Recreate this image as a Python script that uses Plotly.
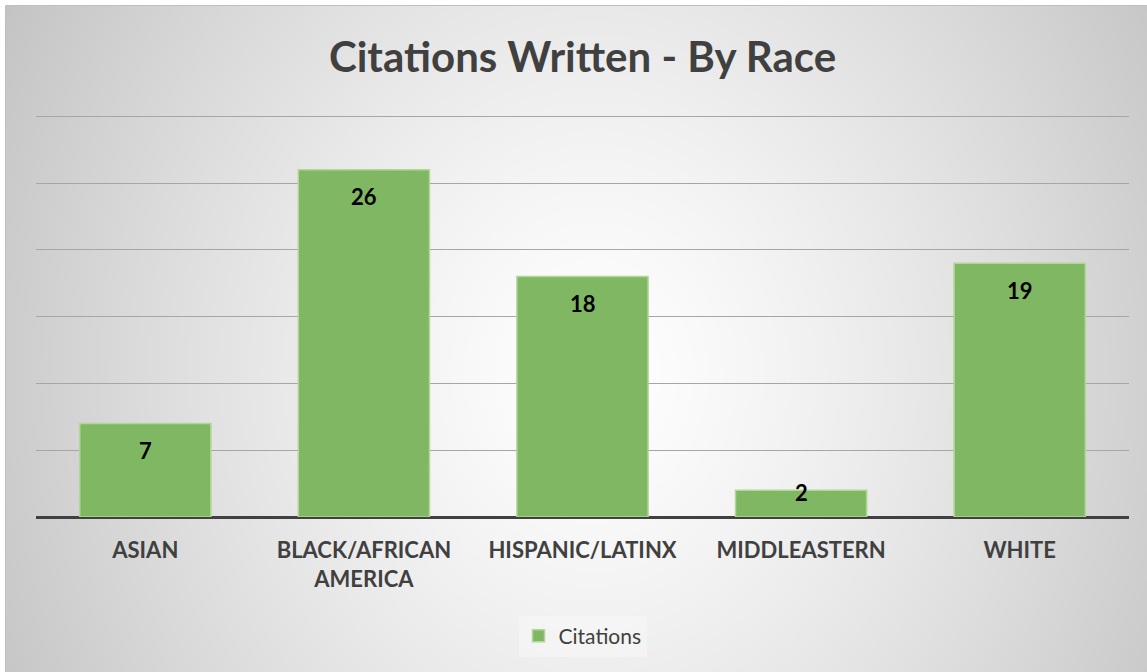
import base64, struct, zlib
import numpy as np
import plotly.graph_objects as go

categories = ["ASIAN", "BLACK/AFRICAN<br>AMERICA", "HISPANIC/LATINX", "MIDDLEASTERN", "WHITE"]
citations = [7, 26, 18, 2, 19]
series_name = "Citations"
title_text = "Citations Written - By Race"

W, H = 1147, 672

# --- radial gradient background as an inline PNG ---
def make_png(w, h, scale, cx, cy):
    ys, xs = np.mgrid[0:h, 0:w]
    dx = (xs * scale - cx) / 680.0
    dy = (ys * scale - cy) / 800.0
    d = np.sqrt(dx ** 2 + dy ** 2)
    c = 255 - 60 * np.clip(d, 0, 1.3) ** 1.3
    c = np.clip(c, 0, 255).astype(np.uint8)
    raw = b"".join(b"\x00" + bytes(np.repeat(row, 3)) for row in c)
    def chunk(t, dd):
        return struct.pack(">I", len(dd)) + t + dd + struct.pack(">I", zlib.crc32(t + dd) & 0xffffffff)
    png = b"\x89PNG\r\n\x1a\n" + chunk(b"IHDR", struct.pack(">IIBBBBB", w, h, 8, 2, 0, 0, 0)) \
        + chunk(b"IDAT", zlib.compress(raw, 9)) + chunk(b"IEND", b"")
    return "data:image/png;base64," + base64.b64encode(png).decode()

scale = 2
bg = make_png(W // scale, H // scale, scale, 590, 370)

fig = go.Figure()
fig.add_trace(go.Bar(
    x=categories, y=citations, name=series_name,
    marker=dict(color="#80B763", line=dict(color="#B0D698", width=1.5)),
    hoverinfo="x+y",
))

T, B = 112, 155
PW = W - 36 - 18
PH = H - T - B
px_per_unit = 400.7 / 30
ymax = PH / px_per_unit
for cat, v in zip(categories, citations):
    shift = -27 if v * px_per_unit > 45 else -2
    fig.add_annotation(x=cat, y=v, text=f"<b>{v}</b>", showarrow=False,
                       yshift=shift, font=dict(family="Lato", size=22, color="#000000"))

base_y = H - B
fig.update_layout(
    width=W, height=H,
    paper_bgcolor="#FFFFFF", plot_bgcolor="rgba(0,0,0,0)",
    margin=dict(l=36, r=18, t=T, b=B),
    bargap=0.4,
    showlegend=True,
    title=dict(text=f"<b>{title_text}</b>", x=0.5, xref="paper", xanchor="center",
               y=1 - 57 / H, yref="container", yanchor="middle",
               font=dict(family="Lato", size=42, color="#404040")),
    legend=dict(orientation="h", x=0.5, xanchor="center", y=-(636 - base_y) / PH, yanchor="middle",
                xref="paper", yref="paper", bgcolor="rgba(255,255,255,0.3)",
                font=dict(family="Lato", size=21, color="#404040"),
                itemwidth=30),
    xaxis=dict(showgrid=False, zeroline=False, showline=False, ticks="",
               ticklabelstandoff=18,
               tickfont=dict(family="Lato", size=22, color="#404040", weight="bold")),
    yaxis=dict(range=[0, ymax], tickvals=[5, 10, 15, 20, 25, 30], showticklabels=False, showgrid=True,
               gridcolor="#A6A6A6", gridwidth=1, zeroline=True, zerolinecolor="#404040",
               zerolinewidth=3, showline=False),
    images=[dict(source=bg, xref="paper", yref="paper", x=(6 - 36) / PW,
                 y=1 + (T - 6) / PH, sizex=(W - 6) / PW, sizey=(H - 6) / PH,
                 xanchor="left", yanchor="top", sizing="stretch", layer="below")],
    shapes=[dict(type="rect", xref="paper", yref="paper",
                 x0=(5.5 - 36) / PW, x1=(W + 10 - 36) / PW,
                 y0=-(H + 10 - base_y) / PH, y1=1 + (T - 5.5) / PH,
                 line=dict(color="#BFBFBF", width=1), layer="below")],
)

fig.write_html("out.html", config={"displayModeBar": False},
               post_script="document.body.style.margin='0';")
